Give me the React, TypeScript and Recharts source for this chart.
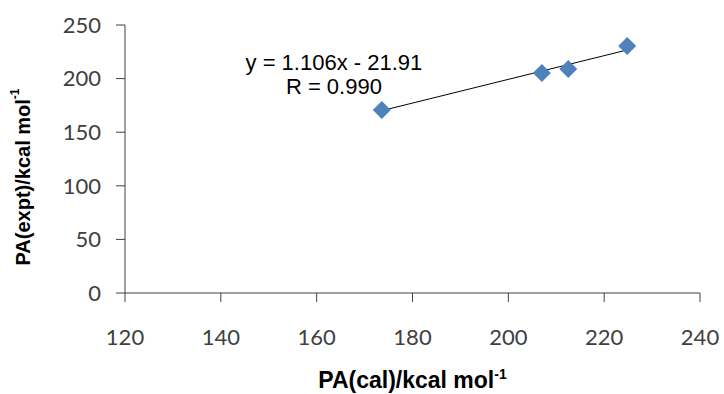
import { ScatterChart, Scatter, XAxis, YAxis, ReferenceDot, Label } from "recharts";

const paCal = [173.6, 207.0, 212.5, 224.8];
const paExpt = [170.7, 205.2, 209.0, 230.4];
const xTicks = [120, 140, 160, 180, 200, 220, 240];
const yTicks = [0, 50, 100, 150, 200, 250];
const slope = 1.106;
const intercept = -21.91;
const equationText = "y = 1.106x - 21.91";
const rText = "R = 0.990";

const points = paCal.map((x, i) => ({ x, y: paExpt[i] }));
const xMin = Math.min(...paCal);
const xMax = Math.max(...paCal);
const trend = [
  { x: xMin, y: slope * xMin + intercept },
  { x: xMax, y: slope * xMax + intercept },
];

const tickStyle = { fill: "#404040", fontSize: 22, fontFamily: "Lato" };
const axisColor = "#404040";

const Diamond = (props: any) => {
  const { cx, cy } = props;
  const r = 9;
  return (
    <path
      d={`M${cx},${cy - r} L${cx + r},${cy} L${cx},${cy + r} L${cx - r},${cy} Z`}
      fill="#4F81BD"
    />
  );
};

const NoShape = () => <g />;

const EquationShape = (props: any) => {
  const { cx, cy } = props;
  return (
    <text
      x={cx}
      y={cy}
      textAnchor="middle"
      fontFamily="'Liberation Sans', Arial"
      fontSize={22}
      fill="#000"
    >
      <tspan x={cx} dy={0}>{equationText}</tspan>
      <tspan x={cx} dy={24}>{rText}</tspan>
    </text>
  );
};

const YTitle = (props: any) => {
  const { viewBox } = props;
  const cx = 23;
  const cy = viewBox.y + viewBox.height / 2 + 18;
  return (
    <text
      x={cx}
      y={cy}
      transform={`rotate(-90, ${cx}, ${cy})`}
      textAnchor="middle"
      dominantBaseline="central"
      fontFamily="'Liberation Sans', Arial"
      fontWeight="bold"
      fontSize={20}
      fill="#000"
    >
      PA(expt)/kcal mol
      <tspan dy={-8} fontSize={12}>-1</tspan>
    </text>
  );
};

const XTitle = (props: any) => {
  const { viewBox } = props;
  const cx = viewBox.x + viewBox.width / 2;
  const cy = 388;
  return (
    <text
      x={cx}
      y={cy}
      textAnchor="middle"
      fontFamily="'Liberation Sans', Arial"
      fontWeight="bold"
      fontSize={23}
      fill="#000"
    >
      PA(cal)/kcal mol
      <tspan dy={-9} fontSize={14}>-1</tspan>
    </text>
  );
};

export default function App() {
  return (
    <div style={{ width: 724, height: 394, background: "#fff" }}>
      <style>{`body{margin:0}`}</style>
      <ScatterChart width={724} height={394} margin={{ top: 25, right: 24, bottom: 0, left: 0 }}>
        <XAxis
          type="number"
          dataKey="x"
          domain={[120, 240]}
          ticks={xTicks}
          tick={tickStyle}
          tickSize={9}
          tickMargin={27}
          stroke={axisColor}
          height={101}
        >
          <Label content={<XTitle />} />
        </XAxis>
        <YAxis
          type="number"
          dataKey="y"
          domain={[0, 250]}
          ticks={yTicks}
          tick={tickStyle}
          tickSize={9}
          tickMargin={15}
          stroke={axisColor}
          width={125}
        >
          <Label content={<YTitle />} />
        </YAxis>
        <Scatter
          data={trend}
          line={{ stroke: "#000", strokeWidth: 1 }}
          shape={<NoShape />}
          isAnimationActive={false}
        />
        <Scatter data={points} shape={<Diamond />} isAnimationActive={false} />
        <ReferenceDot x={163.6} y={208} r={0} shape={<EquationShape />} />
      </ScatterChart>
    </div>
  );
}
